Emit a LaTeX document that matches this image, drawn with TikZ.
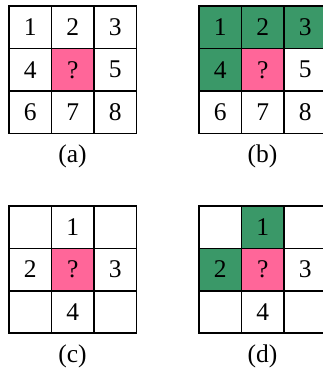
\documentclass[tikz,border=0pt]{standalone}
\usepackage{fontspec}
\setmainfont{Liberation Serif}
\definecolor{cellgreen}{HTML}{3A9868}
\definecolor{cellpink}{HTML}{FF6699}
\tikzset{
  cell/.style={draw=black, line width=1.5pt, minimum width=42.5pt, minimum height=42.5pt, inner sep=0pt, font=\fontsize{25.5}{25.5}\selectfont, anchor=center},
  grn/.style={fill=cellgreen},
  pnk/.style={fill=cellpink},
  plain/.style={},
  caplabel/.style={font=\fontsize{25.5}{25.5}\selectfont, inner sep=0pt}
}
\begin{document}
\begin{tikzpicture}[x=1pt,y=-1pt]
\useasboundingbox (0,0) rectangle (323,373);
% (a)
\foreach \r/\c/\t/\s in {0/0/1/plain, 0/1/2/plain, 0/2/3/plain, 1/0/4/plain, 1/1/?/pnk, 1/2/5/plain, 2/0/6/plain, 2/1/7/plain, 2/2/8/plain}
  \node[cell,\s] (a\r\c) at ({30.25+\c*42.5},{27.25+\r*42.5}) {\t};
\node[caplabel] (la) at (72.5,156) {(a)};
% (b)
\foreach \r/\c/\t/\s in {0/0/1/grn, 0/1/2/grn, 0/2/3/grn, 1/0/4/grn, 1/1/?/pnk, 1/2/5/plain, 2/0/6/plain, 2/1/7/plain, 2/2/8/plain}
  \node[cell,\s] (b\r\c) at ({220.25+\c*42.5},{27.25+\r*42.5}) {\t};
\node[caplabel] (lb) at (262.5,156) {(b)};
% (c)
\foreach \r/\c/\t/\s in {0/0/{}/plain, 0/1/1/plain, 0/2/{}/plain, 1/0/2/plain, 1/1/?/pnk, 1/2/3/plain, 2/0/{}/plain, 2/1/4/plain, 2/2/{}/plain}
  \node[cell,\s] (c\r\c) at ({30.25+\c*42.5},{227.25+\r*42.3}) {\t};
\node[caplabel] (lc) at (72.5,356) {(c)};
% (d)
\foreach \r/\c/\t/\s in {0/0/{}/plain, 0/1/1/grn, 0/2/{}/plain, 1/0/2/grn, 1/1/?/pnk, 1/2/3/plain, 2/0/{}/plain, 2/1/4/plain, 2/2/{}/plain}
  \node[cell,\s] (d\r\c) at ({220.25+\c*42.5},{227.25+\r*42.3}) {\t};
\node[caplabel] (ld) at (262.5,356) {(d)};
\end{tikzpicture}
\end{document}
